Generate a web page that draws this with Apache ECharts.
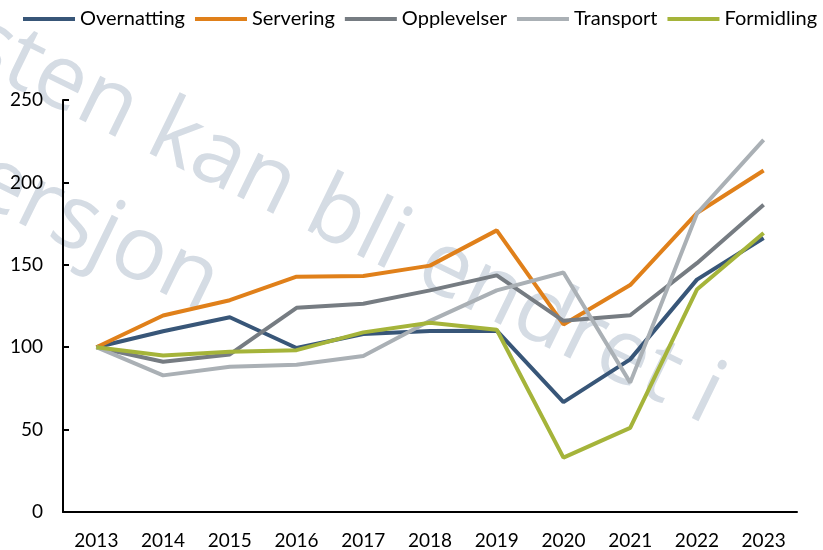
<!DOCTYPE html>
<html>
<head>
<meta charset="utf-8">
<script src="https://cdn.jsdelivr.net/npm/echarts@6/dist/echarts.min.js"></script>
<style>
  html, body { margin: 0; padding: 0; background: #fff; }
  #chart { width: 823px; height: 550px; }
</style>
</head>
<body>
<div id="chart"></div>
<script>
const years = ['2013', '2014', '2015', '2016', '2017', '2018', '2019', '2020', '2021', '2022', '2023'];
const overnatting = [100, 109.7, 118.2, 99.5, 108, 109.8, 110, 66.7, 92.6, 141, 166.3];
const servering = [100, 119.2, 128.5, 142.8, 143.2, 149.5, 170.9, 113.8, 137.7, 181.4, 207.2];
const opplevelser = [100, 91.2, 95.6, 123.9, 126.4, 134.5, 143.6, 116, 119.4, 151, 186.4];
const transport = [100, 82.9, 88.2, 89.3, 94.6, 116, 134.5, 145.3, 78.5, 181, 225.8];
const formidling = [100, 95, 97.3, 98.2, 109, 114.8, 110.6, 33, 51, 135, 169.3];

const names = ['Overnatting', 'Servering', 'Opplevelser', 'Transport', 'Formidling'];
const values = [overnatting, servering, opplevelser, transport, formidling];
const colors = ['#385678', '#e0801a', '#767c82', '#aab0b5', '#a5b43a'];

const font = 'Lato';
const watermarkColor = '#d5dce4';
const angle = -26 * Math.PI / 180;

const series = names.map((name, i) => {
  return {
    name,
    type: 'line',
    data: values[i],
    symbol: 'none',
    color: colors[i],
    lineStyle: { width: 4, color: colors[i] },
    z: 3
  }
})

const chart = echarts.init(document.getElementById('chart'));
const option = {
  animation: false,
  textStyle: { fontFamily: font },
  legend: {
    data: names,
    icon: 'rect',
    left: 18,
    top: 4,
    itemWidth: 52,
    itemHeight: 4,
    itemGap: 10,
    textStyle: { fontFamily: font, fontSize: 20, color: '#000' }
  },
  grid: { left: 63, right: 26, top: 100, bottom: 37 },
  xAxis: {
    type: 'category',
    data: years,
    boundaryGap: true,
    axisLine: { lineStyle: { color: '#000', width: 2 } },
    axisTick: { show: false },
    axisLabel: { color: '#000', fontFamily: font, fontSize: 19, margin: 19 }
  },
  yAxis: {
    type: 'value',
    min: 0,
    max: 250,
    interval: 50,
    axisLine: { show: true, lineStyle: { color: '#000', width: 2 } },
    axisTick: { show: true, inside: true, length: 6, lineStyle: { color: '#000', width: 2 } },
    splitLine: { show: false },
    axisLabel: { color: '#000', fontFamily: font, fontSize: 19, margin: 20 }
  },
  graphic: [
    {
      type: 'text',
      x: 697, y: 442,
      rotation: angle,
      z: -1,
      silent: true,
      style: {
        text: 'Teksten kan bli endret i',
        fill: watermarkColor,
        font: '90px "Open Sans"',
        align: 'right',
        verticalAlign: 'bottom'
      }
    },
    {
      type: 'text',
      x: 194, y: 330,
      rotation: angle,
      z: -1,
      silent: true,
      style: {
        text: 'endelig versjon',
        fill: watermarkColor,
        font: '90px "Open Sans"',
        align: 'right',
        verticalAlign: 'bottom'
      }
    }
  ],
  series
};
chart.setOption(option);
</script>
</body>
</html>
